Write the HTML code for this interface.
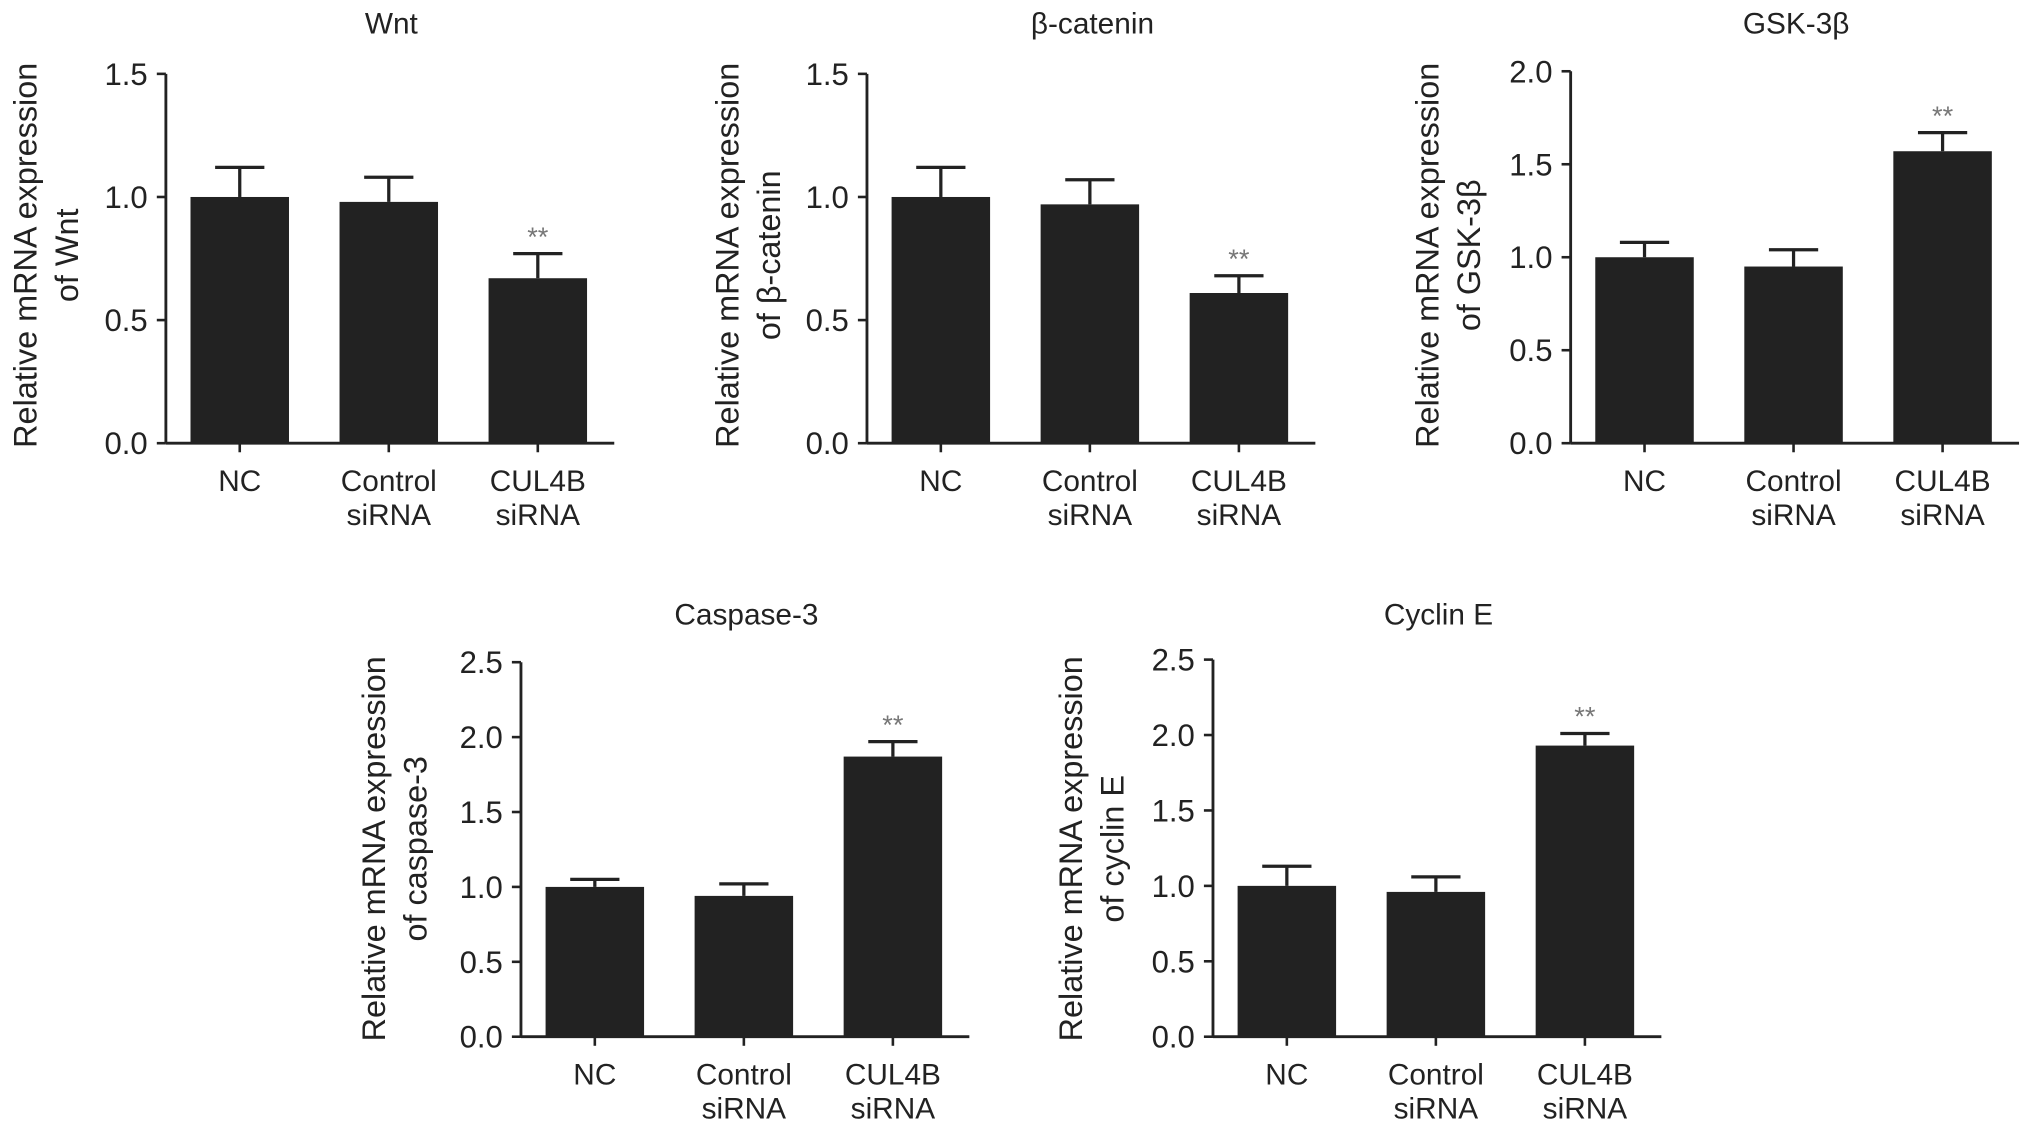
<!DOCTYPE html>
<html><head><meta charset="utf-8"><style>
html,body{margin:0;padding:0;background:#fff}
svg{display:block}
text{font-family:"Liberation Sans",Arial,sans-serif;fill:#222}
</style></head><body>
<svg id="fig" width="2032" height="1133" viewBox="0 0 1568 874.3" preserveAspectRatio="none" xmlns="http://www.w3.org/2000/svg"></svg>
<script>
const categories = [["NC"],["Control","siRNA"],["CUL4B","siRNA"]];
const wntValues = [1.0, 0.98, 0.67];
const wntErrors = [0.12, 0.10, 0.10];
const betaValues = [1.0, 0.97, 0.61];
const betaErrors = [0.12, 0.10, 0.07];
const gskValues = [1.0, 0.95, 1.57];
const gskErrors = [0.08, 0.09, 0.10];
const caspValues = [1.0, 0.94, 1.87];
const caspErrors = [0.05, 0.08, 0.10];
const cycValues = [1.0, 0.96, 1.93];
const cycErrors = [0.13, 0.10, 0.08];
const ticks15 = [0, 0.5, 1.0, 1.5];
const ticks20 = [0, 0.5, 1.0, 1.5, 2.0];
const ticks25 = [0, 0.5, 1.0, 1.5, 2.0, 2.5];
const significant = [false, false, true];

const NS = "http://www.w3.org/2000/svg";
const svg = document.getElementById('fig');
function mk(tag, attrs, parent){const e=document.createElementNS(NS,tag);for(const k in attrs)e.setAttribute(k,attrs[k]);(parent||svg).appendChild(e);return e;}

function panel(cfg){
  const g = mk('g',{});
  
  
  const ax=cfg.ax, y0=cfg.y0, yTop=cfg.yTop, ymax=cfg.ticks[cfg.ticks.length-1];
  const ys = v => y0 - (v/ymax)*(y0-yTop);
  const xc = i => ax + 57 + i*115;
  const t = mk('text',{x:ax+174,y:cfg.titleY,'text-anchor':'middle','font-size':23},g);
  t.textContent = cfg.title;
  
  
  const yl = mk('line',{x1:ax,y1:yTop,x2:ax,y2:y0,stroke:'#222','stroke-width':2.2},g);
  
  
  cfg.ticks.forEach(v=>{
    mk('line',{x1:ax-7,y1:ys(v),x2:ax,y2:ys(v),stroke:'#222','stroke-width':2},g);
    const tl = mk('text',{x:ax-14,y:ys(v)+8.5,'text-anchor':'end','font-size':24},g);
    tl.textContent = v.toFixed(1);
    
    
  });
  const xl = mk('line',{x1:ax,y1:y0,x2:ax+346,y2:y0,stroke:'#222','stroke-width':2.2},g);
  
  
  const yt = mk('text',{'font-size':25,'text-anchor':'middle',transform:`translate(${cfg.ytX},${cfg.ytY}) rotate(-90)`},g);
  
  
  const t1 = mk('tspan',{x:0,y:0},yt); t1.textContent='Relative mRNA expression';
  const t2 = mk('tspan',{x:0,y:32},yt); t2.textContent=cfg.ytLine2;
  cfg.values.forEach((v,i)=>{
    const c = xc(i);
    const top = ys(v), et = ys(v+cfg.errors[i]);
    const el = mk('line',{x1:c,y1:top,x2:c,y2:et,stroke:'#222','stroke-width':2.5},g);
    
    
    mk('line',{x1:c-19,y1:et,x2:c+19,y2:et,stroke:'#222','stroke-width':2.5},g);
    const b = mk('rect',{x:c-38,y:top,width:76,height:y0-top,fill:'#222'},g);
    
    
    mk('line',{x1:c,y1:y0,x2:c,y2:y0+7,stroke:'#222','stroke-width':2},g);
    categories[i].forEach((w,j)=>{
      const cl = mk('text',{x:c,y:y0+37+j*26,'text-anchor':'middle','font-size':23},g);
      cl.textContent = w;
      
      
    });
    if(significant[i]){
      const s = mk('text',{x:c,y:et-6,'text-anchor':'middle','font-size':21,style:'fill:#777'},g);
      s.textContent='**';
      
      
    }
  });
}
panel({name:'wnt',title:'Wnt',ax:128,y0:342,yTop:57,titleY:26,ticks:ticks15,values:wntValues,errors:wntErrors,ytX:28,ytY:197,ytLine2:'of Wnt'});
panel({name:'beta-catenin',title:'β-catenin',ax:669,y0:342,yTop:57,titleY:26,ticks:ticks15,values:betaValues,errors:betaErrors,ytX:570,ytY:197,ytLine2:'of β-catenin'});
panel({name:'gsk3b',title:'GSK-3β',ax:1212,y0:342,yTop:55,titleY:26,ticks:ticks20,values:gskValues,errors:gskErrors,ytX:1110,ytY:197,ytLine2:'of GSK-3β'});
panel({name:'caspase-3',title:'Caspase-3',ax:402,y0:800,yTop:511,titleY:482,ticks:ticks25,values:caspValues,errors:caspErrors,ytX:297,ytY:655,ytLine2:'of caspase-3'});
panel({name:'cyclin-e',title:'Cyclin E',ax:936,y0:800,yTop:509,titleY:482,ticks:ticks25,values:cycValues,errors:cycErrors,ytX:835,ytY:655,ytLine2:'of cyclin E'});
</script>
</body></html>
